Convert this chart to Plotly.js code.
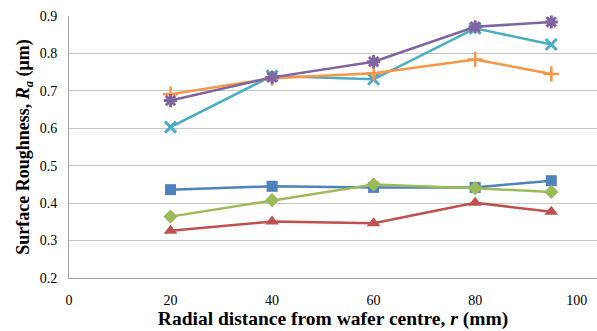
<!DOCTYPE html>
<html><head><meta charset="utf-8">
<script src="https://cdn.plot.ly/plotly-3.0.1.min.js"></script>
<style>html,body{margin:0;padding:0;background:#fff}#chart{width:597px;height:331px}</style>
</head><body><div id="chart"></div>
<script>
const radius = [20, 40, 60, 80, 95];
const seriesBlue   = [0.436, 0.445, 0.442, 0.442, 0.460];
const seriesRed    = [0.326, 0.351, 0.346, 0.401, 0.377];
const seriesGreen  = [0.364, 0.408, 0.450, 0.440, 0.430];
const seriesPurple = [0.674, 0.736, 0.778, 0.871, 0.884];
const seriesCyan   = [0.603, 0.740, 0.731, 0.867, 0.824];
const seriesOrange = [0.691, 0.734, 0.747, 0.784, 0.745];
const xTicks = [0, 20, 40, 60, 80, 100];
const yTicks = [0.2, 0.3, 0.4, 0.5, 0.6, 0.7, 0.8, 0.9];

function tr(y, color, symbol, size, lw) {
  return {x: radius, y: y, type: 'scatter', mode: 'lines+markers',
    line: {color: color, width: 2.5},
    marker: {symbol: symbol, size: size, color: color, line: {color: color, width: lw || 0}},
    showlegend: false, cliponaxis: false};
}
const data = [
  tr(seriesBlue, '#4F81BD', 'square', 11),
  tr(seriesRed, '#C0504D', 'triangle-up', 12),
  tr(seriesGreen, '#9BBB59', 'diamond', 11),
  tr(seriesCyan, '#4BACC6', 'x-thin-open', 11, 3),
  tr(seriesOrange, '#F79646', 'cross-thin-open', 11, 2.5),
  tr(seriesPurple, '#8064A2', 'asterisk-open', 11, 3),
];
const font = {family: '"Liberation Serif", "Times New Roman", serif', color: '#000'};
const layout = {
  width: 597, height: 331,
  margin: {l: 69, r: 0, t: 16, b: 53},
  paper_bgcolor: '#fff', plot_bgcolor: '#fff',
  font: font,
  xaxis: {range: [0, 104], tickvals: xTicks, ticktext: xTicks.map(String),
    showgrid: false, zeroline: false, showline: true, linecolor: '#a6a6a6', linewidth: 1,
    ticks: '', tickfont: {family: font.family, size: 14, color: '#000'}, ticklabelstandoff: 9,
    title: {text: '<b>Radial distance from wafer centre, <i>r</i> (mm)</b>', font: {family: font.family, size: 19.5, color: '#000'}, standoff: 3}},
  yaxis: {range: [0.2, 0.9], tickvals: yTicks, ticktext: yTicks.map(v => v.toFixed(1)),
    showgrid: true, gridcolor: '#c8c8c8', gridwidth: 1, zeroline: false,
    showline: true, linecolor: '#a6a6a6', linewidth: 1, ticks: '',
    tickfont: {family: font.family, size: 14, color: '#000'}, ticklabelstandoff: 8,
    title: {text: '<b>Surface Roughness, <i>R<sub>a</sub></i> (μm)</b>', font: {family: font.family, size: 18, color: '#000'}, standoff: 5}},
};
Plotly.newPlot('chart', data, layout, {displayModeBar: false, staticPlot: true});
</script></body></html>
